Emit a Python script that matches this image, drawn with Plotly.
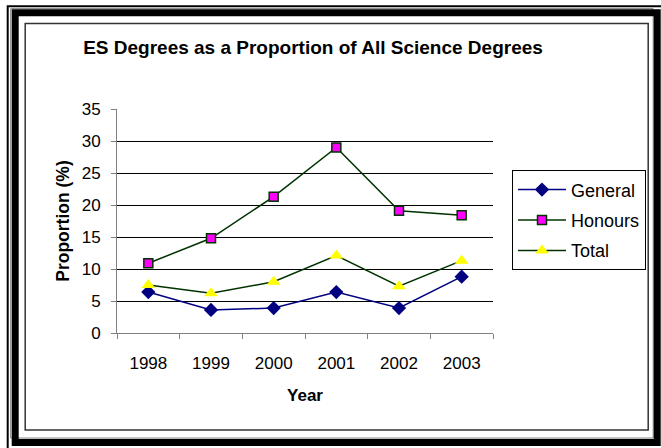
import plotly.graph_objects as go

# Data: ES degrees as a share of all science degrees (%)
years = ["1998", "1999", "2000", "2001", "2002", "2003"]
general = [6.4, 3.6, 3.9, 6.4, 3.9, 8.8]
honours = [10.9, 14.8, 21.3, 29.0, 19.1, 18.4]
total = [7.5, 6.2, 8.0, 12.1, 7.3, 11.3]
y_ticks = [0, 5, 10, 15, 20, 25, 30, 35]

W, H = 661, 448
L, R, T, B = 117.3, 493.3, 109.0, 333.3   # plot area in pixels
FONT = "Liberation Sans, Arial, sans-serif"


def px(x):
    return (x - L) / (R - L)


def py(y):
    return (B - y) / (B - T)


fig = go.Figure()

fig.add_trace(go.Scatter(
    x=years, y=general, name="General", mode="lines+markers",
    line=dict(color="#000080", width=1.5),
    marker=dict(symbol="diamond", size=11, color="#000080"),
    legendgroup="g1",
))
fig.add_trace(go.Scatter(
    x=years, y=honours, name="Honours", mode="lines+markers",
    line=dict(color="#003300", width=1.5),
    marker=dict(symbol="square", size=9, color="#FF00FF",
                line=dict(color="#003300", width=1.5)),
    legendgroup="g2",
))
fig.add_trace(go.Scatter(
    x=years, y=total, name="Total", mode="lines+markers",
    line=dict(color="#003300", width=1.5),
    marker=dict(symbol="triangle-up", size=12, color="#FFFF00"),
    legendgroup="g3",
))

# Decorative double frame around the chart
shapes = [
    dict(type="rect", xref="paper", yref="paper",
         x0=px(8), x1=px(700), y0=py(6), y1=py(500),
         line=dict(color="black", width=2)),
    dict(type="rect", xref="paper", yref="paper",
         x0=px(11), x1=px(653.5), y0=py(8.5), y1=py(438.5),
         line=dict(color="#808080", width=1)),
    dict(type="rect", xref="paper", yref="paper",
         x0=px(15.5), x1=px(657.5), y0=py(12.5), y1=py(443),
         line=dict(color="black", width=7)),
    dict(type="rect", xref="paper", yref="paper",
         x0=px(25.5), x1=px(648.5), y0=py(23.5), y1=py(430.5),
         line=dict(color="#333333", width=1.5)),
]

fig.update_layout(
    width=W, height=H,
    margin=dict(l=L, r=W - R, t=T, b=H - B, pad=0),
    paper_bgcolor="white", plot_bgcolor="white",
    font=dict(family=FONT, size=17, color="black"),
    title=dict(
        text="<b>ES Degrees as a Proportion of All Science Degrees</b>",
        font=dict(family=FONT, size=19, color="black"),
        xref="container", yref="container",
        x=313 / W, y=1 - 47 / H, xanchor="center", yanchor="middle",
    ),
    showlegend=True,
    legend=dict(
        x=px(512.3), y=py(170.5), xanchor="left", yanchor="top",
        bordercolor="black", borderwidth=1, bgcolor="white",
        font=dict(family=FONT, size=18),
        tracegroupgap=4, traceorder="grouped", itemwidth=48,
    ),
    shapes=shapes,
)

fig.update_xaxes(
    type="category", range=[-0.5, 5.5],
    showgrid=False, showline=True, linecolor="#808080", linewidth=1,
    ticks="outside", tickson="boundaries", ticklen=5, tickcolor="#808080",
    ticklabelstandoff=15,
    tickfont=dict(family=FONT, size=17),
    title=dict(text="<b>Year</b>", font=dict(family=FONT, size=17), standoff=16),
)
fig.update_yaxes(
    range=[0, 35], tickvals=y_ticks, ticktext=[str(v) for v in y_ticks],
    showgrid=True, gridcolor="black", gridwidth=1,
    showline=True, linecolor="#808080", linewidth=1,
    ticks="outside", ticklen=5, tickcolor="#808080",
    ticklabelstandoff=7, zeroline=False,
    tickfont=dict(family=FONT, size=17),
    title=dict(text="<b>Proportion (%)</b>", font=dict(family=FONT, size=17.5), standoff=7),
)

fig.write_html("out.html")
